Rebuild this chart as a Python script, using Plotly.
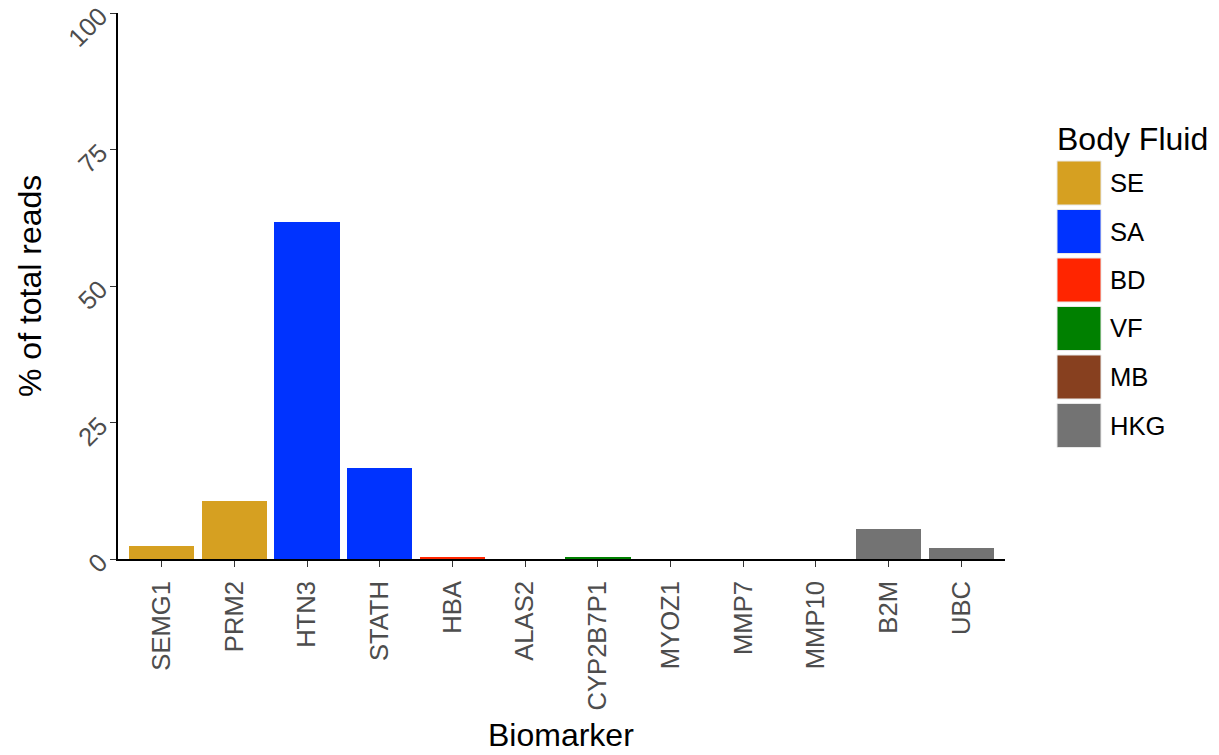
import plotly.graph_objects as go

# Share of total reads per biomarker, grouped by body fluid
biomarkers = ["SEMG1", "PRM2", "HTN3", "STATH", "HBA", "ALAS2",
              "CYP2B7P1", "MYOZ1", "MMP7", "MMP10", "B2M", "UBC"]
fluid_of_marker = ["SE", "SE", "SA", "SA", "BD", "BD",
                   "VF", "VF", "MB", "MB", "HKG", "HKG"]
pct_reads = [2.4, 10.6, 61.8, 16.7, 0.25, 0.0,
             0.2, 0.0, 0.0, 0.0, 5.5, 2.0]

fluids = ["SE", "SA", "BD", "VF", "MB", "HKG"]
fluid_colors = ["#D6A021", "#0033FF", "#FF2500", "#008000", "#87401F", "#737373"]
color_map = dict(zip(fluids, fluid_colors))

y_ticks = [0, 25, 50, 75, 100]

W, H = 1219, 755
ML, MR, MT, MB_ = 118, 214, 13, 196
PW, PH = W - ML - MR, H - MT - MB_


def px_x(px):
    return (px - ML) / PW


def px_y(py):
    return (H - MB_ - py) / PH


fig = go.Figure()
fig.add_trace(go.Bar(
    x=biomarkers,
    y=pct_reads,
    width=0.9,
    marker=dict(color=[color_map[f] for f in fluid_of_marker], line=dict(width=0)),
    showlegend=False,
))

font_family = "Liberation Sans, Arial, sans-serif"
tick_col = "#4D4D4D"

fig.update_layout(
    width=W, height=H,
    margin=dict(l=ML, r=MR, t=MT, b=MB_, pad=0, autoexpand=False),
    paper_bgcolor="white", plot_bgcolor="white",
    font=dict(family=font_family, color="black"),
    bargap=0,
    xaxis=dict(
        type="category", automargin=False,
        categoryorder="array", categoryarray=biomarkers,
        range=[-0.6, len(biomarkers) - 0.4],
        showline=True, linecolor="black", linewidth=1.6,
        ticks="outside", ticklen=6, tickwidth=1.4, tickcolor="#333333",
        tickangle=-90, tickfont=dict(size=25.6, color=tick_col),
        ticklabelstandoff=4,
        showgrid=False, zeroline=False,
    ),
    yaxis=dict(
        range=[0, 100], automargin=False,
        tickvals=y_ticks, ticktext=[str(v) for v in y_ticks],
        showline=True, linecolor="black", linewidth=1.6,
        ticks="outside", ticklen=6, tickwidth=1.4, tickcolor="#333333",
        tickangle=-45, tickfont=dict(size=25.6, color=tick_col),
        ticklabelstandoff=5,
        showgrid=False, zeroline=False,
    ),
)

annotations = [
    dict(text="Biomarker", x=px_x(561), y=px_y(735), xref="paper", yref="paper",
         showarrow=False, font=dict(size=32, color="black"),
         xanchor="center", yanchor="middle"),
    dict(text="% of total reads", x=px_x(30), y=px_y(286), xref="paper", yref="paper",
         showarrow=False, textangle=-90, font=dict(size=32, color="black"),
         xanchor="center", yanchor="middle"),
    dict(text="Body Fluid", x=px_x(1055), y=px_y(139), xref="paper", yref="paper",
         showarrow=False, font=dict(size=32, color="black"),
         xanchor="left", yanchor="middle"),
]

# Legend keys drawn as large swatches with labels
shapes = []
key_top, key_step, key_h, key_w, key_left = 161, 48.5, 44, 44, 1057
for i, (name, col) in enumerate(zip(fluids, fluid_colors)):
    top = key_top + i * key_step
    shapes.append(dict(type="rect", xref="paper", yref="paper",
                       x0=px_x(key_left), x1=px_x(key_left + key_w),
                       y0=px_y(top + key_h), y1=px_y(top),
                       fillcolor=col, line=dict(color="#E8E8E8", width=1)))
    annotations.append(dict(text=name, x=px_x(key_left + key_w + 7),
                            y=px_y(top + key_h / 2), xref="paper", yref="paper",
                            showarrow=False, font=dict(size=25.6, color="black"),
                            xanchor="left", yanchor="middle"))

fig.update_layout(annotations=annotations, shapes=shapes)

fig.write_html("out.html")
